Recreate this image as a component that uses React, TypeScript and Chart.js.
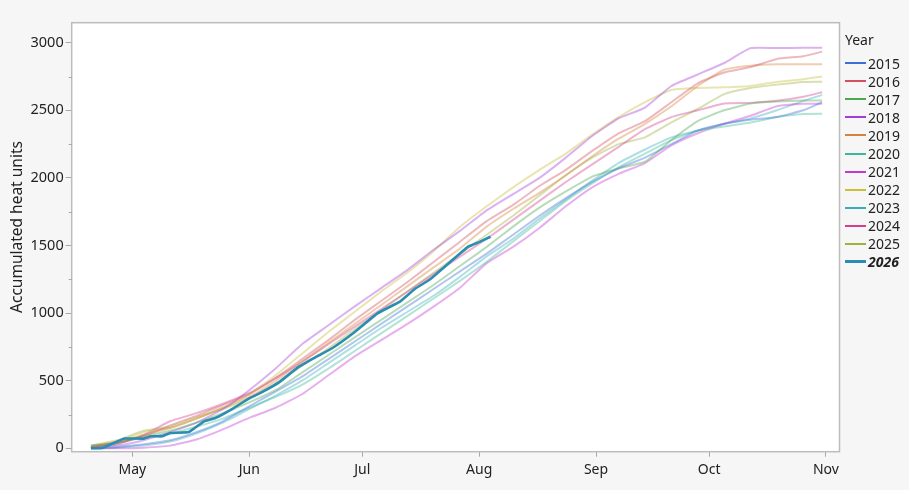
import React, { useEffect, useRef } from "react";
import { Chart, registerables } from "chart.js";

Chart.register(...registerables);

// Day-of-year sample points (Apr 20 .. Oct 31)
const days = [110, 117, 124, 131, 138, 145, 152, 159, 166, 173, 180, 187, 194, 201, 208, 215, 222, 229, 236, 243, 250, 257, 264, 271, 278, 285, 292, 299, 304];

const y2015 = [0, 10, 30, 60, 120, 200, 310, 420, 530, 660, 790, 920, 1050, 1180, 1310, 1440, 1580, 1720, 1850, 1970, 2070, 2150, 2250, 2350, 2400, 2430, 2450, 2500, 2560];
const y2016 = [10, 40, 90, 170, 240, 320, 400, 520, 660, 800, 950, 1090, 1230, 1380, 1530, 1680, 1800, 1940, 2060, 2200, 2330, 2420, 2560, 2700, 2780, 2820, 2880, 2900, 2934];
const y2017 = [10, 40, 90, 130, 190, 260, 340, 430, 560, 690, 820, 950, 1080, 1210, 1350, 1490, 1640, 1780, 1900, 2010, 2070, 2120, 2280, 2420, 2500, 2550, 2565, 2572, 2572];
const y2018 = [5, 20, 60, 120, 190, 290, 430, 590, 770, 910, 1050, 1185, 1320, 1470, 1610, 1760, 1880, 2000, 2150, 2310, 2440, 2520, 2680, 2765, 2850, 2960, 2960, 2962, 2962];
const y2019 = [15, 45, 100, 150, 220, 300, 380, 500, 640, 780, 920, 1060, 1200, 1340, 1480, 1640, 1770, 1890, 2020, 2160, 2290, 2400, 2530, 2680, 2800, 2830, 2840, 2840, 2840];
const y2020 = [20, 40, 80, 110, 160, 220, 300, 380, 470, 590, 720, 850, 980, 1110, 1240, 1380, 1530, 1680, 1830, 1960, 2080, 2180, 2280, 2350, 2380, 2410, 2450, 2472, 2474];
const y2021 = [0, 0, 5, 20, 65, 140, 225, 300, 400, 540, 680, 800, 920, 1050, 1190, 1370, 1490, 1630, 1790, 1930, 2030, 2110, 2240, 2330, 2400, 2460, 2530, 2548, 2548];
const y2022 = [20, 50, 120, 150, 220, 300, 400, 540, 700, 860, 1010, 1160, 1300, 1460, 1640, 1790, 1930, 2060, 2180, 2320, 2450, 2560, 2650, 2665, 2670, 2680, 2710, 2730, 2750];
const y2023 = [0, 5, 20, 50, 110, 190, 290, 390, 500, 630, 760, 890, 1010, 1130, 1270, 1420, 1550, 1700, 1840, 1980, 2110, 2210, 2300, 2350, 2400, 2440, 2500, 2570, 2614];
const y2024 = [5, 30, 100, 200, 260, 330, 410, 520, 640, 770, 900, 1030, 1160, 1290, 1420, 1550, 1690, 1830, 1970, 2100, 2230, 2360, 2450, 2500, 2550, 2555, 2570, 2600, 2634];
const y2025 = [20, 60, 130, 160, 230, 290, 370, 480, 610, 740, 880, 1020, 1160, 1300, 1440, 1580, 1720, 1870, 2020, 2150, 2250, 2300, 2410, 2510, 2620, 2665, 2690, 2710, 2711];

const days2026 = [110, 113, 116, 119, 124, 126, 129, 131, 136, 140, 143, 148, 152, 155, 160, 165, 170, 174, 180, 186, 192, 196, 200, 205, 210, 213, 216];
const y2026 = [0, 2, 39, 72, 72, 89, 89, 113, 120, 200, 224, 300, 370, 410, 490, 600, 680, 740, 860, 998, 1085, 1180, 1250, 1370, 1490, 1525, 1565];

const years = ["2015", "2016", "2017", "2018", "2019", "2020", "2021", "2022", "2023", "2024", "2025", "2026"];
const colors = ["#3B6FD8", "#D3505F", "#4AA84F", "#A53BDD", "#D5823A", "#3BB99A", "#C437D1", "#C9BF3A", "#36AEBB", "#D33F8D", "#9DB23E", "#2B8DB1"];
const pastSeries = [y2015, y2016, y2017, y2018, y2019, y2020, y2021, y2022, y2023, y2024, y2025];

const monthTicks = [121, 152, 182, 213, 244, 274, 305];
const monthLabels = ["May", "Jun", "Jul", "Aug", "Sep", "Oct", "Nov"];
const yMajorTicks = [0, 500, 1000, 1500, 2000, 2500, 3000];
const yMinorTicks = [250, 750, 1250, 1750, 2250, 2750];

const FONT = "'Noto Sans', 'Open Sans', sans-serif";

function hexA(hex: string, a: number) {
  const r = parseInt(hex.slice(1, 3), 16);
  const g = parseInt(hex.slice(3, 5), 16);
  const b = parseInt(hex.slice(5, 7), 16);
  return `rgba(${r},${g},${b},${a})`;
}

export default function App() {
  const ref = useRef<HTMLCanvasElement | null>(null);

  useEffect(() => {
    document.body.style.margin = "0";
    document.body.style.background = "#f6f6f6";
    const ctx = ref.current!.getContext("2d")!;

    const datasets: any[] = pastSeries.map((vals, i) => ({
      label: years[i],
      data: days.map((d, j) => ({ x: d, y: vals[j] })),
      borderColor: hexA(colors[i], 0.4),
      borderWidth: 2,
      pointRadius: 0,
      tension: 0.15,
      order: 1 + i,
    }));
    datasets.push({
      label: years[11],
      data: days2026.map((d, j) => ({ x: d, y: y2026[j] })),
      borderColor: colors[11],
      borderWidth: 2.6,
      pointRadius: 0,
      tension: 0.1,
      order: 0,
    });

    const framePlugin = {
      id: "frame",
      beforeDraw(chart: any) {
        const { ctx, chartArea: a } = chart;
        ctx.save();
        ctx.fillStyle = "#ffffff";
        ctx.fillRect(a.left, a.top, a.right - a.left, a.bottom - a.top);
        ctx.restore();
      },
      afterDraw(chart: any) {
        const { ctx, chartArea: a } = chart;
        const ys = chart.scales.y;
        ctx.save();
        ctx.strokeStyle = "#bcbcbc";
        ctx.lineWidth = 1.5;
        ctx.strokeRect(a.left, a.top, a.right - a.left, a.bottom - a.top);
        ctx.strokeStyle = "#a8a8a8";
        ctx.lineWidth = 1;
        yMinorTicks.forEach((v) => {
          const y = Math.round(ys.getPixelForValue(v)) + 0.5;
          ctx.beginPath();
          ctx.moveTo(a.left - 3, y);
          ctx.lineTo(a.left, y);
          ctx.stroke();
        });
        ctx.fillStyle = "#222";
        ctx.font = `15.5px ${FONT}`;
        ctx.textAlign = "center";
        ctx.textBaseline = "middle";
        ctx.translate(18, 227);
        ctx.rotate(-Math.PI / 2);
        ctx.fillText("Accumulated heat units", 0, 0);
        ctx.restore();
      },
    };

    const chart = new Chart(ctx, {
      type: "line",
      data: { datasets },
      plugins: [framePlugin],
      options: {
        animation: false,
        responsive: false,
        layout: { padding: { left: 0, right: 69.5, top: 22.7, bottom: 0 } },
        plugins: { legend: { display: false }, tooltip: { enabled: false } },
        scales: {
          x: {
            type: "linear",
            min: 104.9,
            max: 308.6,
            afterBuildTicks: (s: any) => {
              s.ticks = monthTicks.map((v) => ({ value: v }));
            },
            afterFit: (s: any) => {
              s.height = 490 - 451.7;
            },
            ticks: {
              callback: (v: any) => {
                const i = monthTicks.indexOf(Number(v));
                return i >= 0 ? monthLabels[i] : "";
              },
              color: "#222",
              font: { family: FONT, size: 14 },
              padding: 5,
              maxRotation: 0,
              autoSkip: false,
            },
            grid: { drawOnChartArea: false, drawTicks: true, tickLength: 5, color: "#a8a8a8" },
            border: { display: false },
          },
          y: {
            type: "linear",
            min: -25,
            max: 3148,
            afterBuildTicks: (s: any) => {
              s.ticks = yMajorTicks.map((v) => ({ value: v }));
            },
            afterFit: (s: any) => {
              s.width = 71.7;
            },
            ticks: {
              callback: (v: any) => String(v),
              color: "#222",
              font: { family: FONT, size: 14.5 },
              padding: 2,
            },
            grid: { drawOnChartArea: false, drawTicks: true, tickLength: 6, color: "#a8a8a8" },
            border: { display: false },
          },
        },
      } as any,
    });
    return () => chart.destroy();
  }, []);

  return (
    <div style={{ position: "relative", width: 909, height: 490, background: "#f6f6f6", fontFamily: FONT }}>
      <canvas ref={ref} width={909} height={490} style={{ display: "block", width: 909, height: 490 }} />
      <div style={{ position: "absolute", left: 845, top: 31, fontSize: 14, color: "#222", lineHeight: "18px" }}>
        Year
      </div>
      {years.map((y, i) => (
        <div
          key={y}
          style={{
            position: "absolute",
            left: 845,
            top: 63.3 + i * 18.04 - 9,
            height: 18,
            display: "flex",
            alignItems: "center",
            fontSize: 14,
            color: "#222",
            fontWeight: i === 11 ? "bold" : "normal",
            fontStyle: i === 11 ? "italic" : "normal",
          }}
        >
          <span style={{ display: "inline-block", width: 21, height: i === 11 ? 3 : 2, background: colors[i], marginRight: 2 }} />
          <span>{y}</span>
        </div>
      ))}
    </div>
  );
}
